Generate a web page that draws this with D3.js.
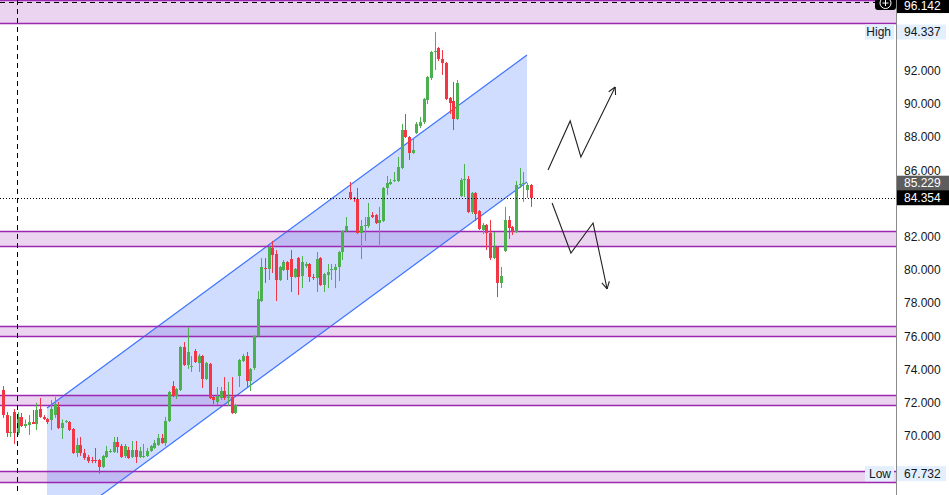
<!DOCTYPE html>
<html>
<head>
<meta charset="utf-8">
<script src="https://cdn.jsdelivr.net/npm/d3@7"></script>
<style>
  html, body { margin: 0; padding: 0; background: #fff; }
  svg { display: block; font-family: "Liberation Sans", Arial, sans-serif; }
</style>
</head>
<body>
<svg width="949" height="495"></svg>
<script>
'use strict';

// Candles, oldest first.
const opens = [
  72.77, 71.26, 70.18, 71.45, 70.18, 71.15, 70.60, 70.66, 70.84, 70.72,
  71.63, 71.15, 71.03, 70.96, 71.26, 71.75, 70.48, 70.84, 70.84, 70.42,
  68.98, 69.46, 68.98, 68.74, 68.56, 68.56, 68.56, 68.13, 68.74, 69.04,
  69.04, 69.64, 69.40, 68.80, 69.16, 68.74, 69.16, 68.74, 68.74, 68.80,
  69.10, 69.28, 69.46, 69.88, 69.58, 70.90, 73.01, 72.41, 72.77, 75.36,
  74.28, 74.16, 75.12, 74.40, 74.82, 73.43, 74.34, 72.35, 72.05, 72.29,
  72.71, 72.29, 72.35, 71.39, 73.62, 74.52, 74.82, 73.31, 74.10, 76.02,
  78.13, 80.12, 80.06, 81.33, 80.96, 79.40, 80.00, 80.48, 80.66, 79.58,
  80.72, 79.64, 80.24, 80.36, 79.58, 79.52, 80.72, 79.10, 79.70, 80.00,
  80.00, 80.18, 81.08, 82.35, 84.70, 84.34, 84.28, 82.23, 82.65, 82.65,
  83.31, 83.31, 82.83, 82.95, 84.94, 85.18, 85.36, 85.36, 86.14, 88.43,
  88.01, 87.05, 88.25, 88.67, 88.92, 90.24, 91.57, 93.13, 93.37, 92.71,
  92.47, 90.36, 90.18, 89.10, 84.46, 85.42, 85.48, 83.49, 84.64, 83.55,
  82.41, 82.71, 82.23, 80.72, 81.39, 79.22, 81.14, 83.01, 82.59, 82.29,
  85.12, 85.18, 84.82, 85.12
];
const highs = [
  73.01, 71.45, 71.20, 71.63, 71.45, 71.39, 71.00, 71.26, 71.57, 72.00,
  72.29, 71.26, 71.09, 72.17, 72.35, 72.05, 71.00, 70.96, 70.90, 70.48,
  69.88, 69.94, 69.22, 68.86, 68.74, 69.28, 68.62, 68.86, 69.40, 69.22,
  69.94, 69.94, 69.52, 69.52, 69.34, 69.70, 69.70, 69.34, 69.52, 69.28,
  69.46, 69.76, 70.12, 70.12, 71.15, 72.71, 73.31, 72.89, 75.42, 75.66,
  76.56, 74.82, 75.24, 74.94, 74.88, 74.46, 74.40, 72.47, 72.95, 72.95,
  73.55, 73.25, 73.55, 71.93, 74.64, 74.94, 75.06, 74.10, 76.08, 78.73,
  80.72, 80.72, 81.51, 81.75, 81.20, 80.24, 80.60, 80.54, 81.20, 80.12,
  80.78, 80.84, 80.48, 80.42, 79.76, 81.08, 80.78, 79.82, 80.36, 80.36,
  80.36, 81.14, 82.41, 83.19, 85.30, 84.40, 84.94, 83.01, 83.19, 84.04,
  83.49, 83.37, 83.80, 85.00, 85.66, 85.48, 85.90, 86.81, 88.80, 89.40,
  88.07, 87.95, 88.92, 89.22, 90.36, 91.69, 93.19, 94.337, 93.43, 93.25,
  92.53, 90.42, 91.33, 91.45, 85.54, 86.39, 85.66, 84.70, 84.70, 83.61,
  82.83, 82.77, 83.01, 82.29, 81.45, 80.18, 83.80, 83.25, 82.65, 85.36,
  86.14, 85.90, 85.24, 85.18
];
const lows = [
  71.09, 69.94, 69.94, 69.52, 70.06, 70.54, 70.48, 70.06, 70.72, 70.36,
  71.09, 70.96, 70.72, 70.36, 71.09, 70.42, 69.82, 70.78, 70.30, 68.92,
  68.74, 68.80, 68.56, 68.37, 68.37, 68.37, 67.732, 68.07, 68.68, 68.98,
  68.98, 68.98, 68.68, 68.68, 68.62, 68.68, 68.37, 68.68, 68.68, 68.74,
  69.04, 69.22, 69.40, 69.52, 69.40, 70.84, 72.35, 72.23, 72.71, 74.22,
  74.04, 73.86, 74.40, 73.86, 72.89, 73.37, 72.23, 71.93, 71.87, 72.17,
  72.17, 71.81, 71.33, 71.33, 72.95, 74.46, 72.89, 72.71, 73.98, 75.96,
  78.07, 79.22, 79.40, 79.82, 78.13, 79.34, 79.94, 79.40, 78.67, 79.52,
  78.49, 78.91, 80.12, 79.28, 79.40, 78.67, 79.04, 78.67, 78.91, 79.40,
  78.91, 79.34, 80.60, 82.29, 84.22, 84.10, 82.17, 80.66, 81.75, 82.53,
  83.13, 82.77, 81.51, 82.89, 84.52, 85.12, 85.30, 85.30, 86.08, 87.95,
  86.63, 86.99, 88.19, 88.55, 88.80, 90.00, 91.45, 92.05, 92.59, 91.75,
  90.24, 89.40, 88.43, 89.04, 84.40, 84.40, 83.43, 83.37, 82.95, 82.41,
  82.17, 81.20, 80.60, 80.66, 78.37, 78.91, 81.08, 81.87, 82.11, 82.23,
  84.94, 84.10, 84.34, 83.80
];
const closes = [
  71.26, 70.18, 70.24, 70.18, 71.15, 70.60, 70.72, 70.84, 70.72, 71.57,
  71.15, 71.03, 70.84, 71.63, 71.93, 70.48, 70.78, 70.90, 70.36, 68.98,
  69.46, 68.98, 68.68, 68.50, 68.50, 68.50, 68.13, 68.80, 69.10, 69.10,
  69.64, 69.34, 68.74, 69.40, 68.68, 69.16, 68.74, 69.10, 68.80, 69.10,
  69.40, 69.58, 69.88, 69.58, 70.90, 72.65, 72.41, 72.83, 75.36, 74.28,
  75.06, 74.22, 74.46, 74.82, 73.43, 74.40, 72.29, 72.17, 72.41, 72.71,
  72.29, 72.35, 71.39, 71.87, 74.58, 74.82, 73.31, 74.04, 76.02, 78.25,
  80.18, 80.06, 81.39, 80.90, 79.40, 80.18, 80.48, 80.00, 79.58, 80.06,
  79.58, 80.48, 80.36, 79.58, 79.52, 80.66, 79.10, 79.76, 79.88, 80.06,
  80.18, 81.08, 82.35, 82.65, 84.34, 84.28, 82.23, 82.65, 82.71, 83.19,
  83.19, 82.83, 83.01, 84.94, 85.24, 85.30, 85.42, 86.20, 88.43, 88.01,
  87.05, 87.23, 88.80, 88.92, 90.30, 91.63, 93.13, 93.19, 92.71, 92.47,
  90.30, 90.06, 89.10, 91.27, 85.42, 85.48, 83.49, 84.64, 83.37, 82.47,
  82.71, 82.23, 80.72, 81.39, 79.22, 79.64, 83.01, 82.53, 82.29, 85.12,
  85.18, 85.24, 85.12, 84.354
];

// Price axis ticks (94 sits under the High label, so it is left out).
const tickValues = [70, 72, 74, 76, 78, 80, 82, 86, 88, 90, 92];

// Supply / demand zones [low, high].
const zones = [
  [94.87, 96.25],
  [81.45, 82.35],
  [76.02, 76.63],
  [71.87, 72.47],
  [67.23, 67.89]
];

// Parallel channel: [candle index, upper price, lower price].
const channelStart = [11.9, 71.69, 64.03];
const channelEnd = [142.0, 92.95, 85.30];

// Scenario arrows, [candle index, price].
const arrowUp = [[147.7, 86.02], [153.7, 88.98], [156.6, 86.81], [165.9, 91.02]];
const arrowDown = [[148.8, 84.04], [153.9, 81.02], [159.9, 82.83], [163.7, 78.86]];

const lastPrice = 84.354;
const prevPrice = 85.229;
const highPrice = 94.337;
const lowPrice = 67.732;
const crossPrice = 96.142;
const crossIndex = 3.9;

const W = 949, H = 495, axisX = 896;
const green = '#4caf50', red = '#f23645';

const x = d3.scaleLinear().domain([0, 143]).range([3, 530.7]);
const y = d3.scaleLinear().domain([70, 92]).range([436, 70.8]);

const svg = d3.select('svg');
const plot = svg.append('g');

/*
 * Zones: fill first, borders drawn on top.
 */
plot.selectAll('rect.zone')
  .data(zones)
  .enter()
  .append('rect')
  .attr('class', 'zone')
  .attr('x', 0)
  .attr('width', axisX)
  .attr('y', d => y(d[1]))
  .attr('height', d => y(d[0]) - y(d[1]))
  .attr('fill', 'rgba(156,39,176,0.2)');

// Channel
const chPoly = [
  [x(channelStart[0]), y(channelStart[1])],
  [x(channelEnd[0]), y(channelEnd[1])],
  [x(channelEnd[0]), y(channelEnd[2])],
  [x(channelStart[0]), y(channelStart[2])]
];
plot.append('polygon')
  .attr('points', chPoly.map(p => p.join(',')).join(' '))
  .attr('fill', 'rgba(41,98,255,0.22)');

plot.selectAll('line.chan')
  .data([1, 2])
  .enter()
  .append('line')
  .attr('class', 'chan')
  .attr('x1', x(channelStart[0]))
  .attr('y1', k => y(channelStart[k]))
  .attr('x2', x(channelEnd[0]))
  .attr('y2', k => y(channelEnd[k]))
  .attr('stroke', '#3d73ff')
  .attr('stroke-width', 1.2);

const borders = [];
zones.forEach(z => { borders.push(z[0]); borders.push(z[1]); });
plot.selectAll('line.zb')
  .data(borders)
  .enter()
  .append('line')
  .attr('class', 'zb')
  .attr('x1', 0)
  .attr('x2', axisX)
  .attr('y1', d => Math.round(y(d)) + 0.5)
  .attr('y2', d => Math.round(y(d)) + 0.5)
  .attr('stroke', '#9c27b0')
  .attr('stroke-width', 1.3);

/*
 * Candles.
 */
const candles = opens.map((o, i) => ({
  i: i, o: o, h: highs[i], l: lows[i], c: closes[i]
}));

const cg = plot.selectAll('g.candle')
  .data(candles)
  .enter()
  .append('g')
  .attr('class', 'candle')
  .attr('fill', d => d.c >= d.o ? green : red)
  .attr('stroke', d => d.c >= d.o ? green : red);

cg.append('line')
  .attr('x1', d => Math.round(x(d.i)) + 0.5)
  .attr('x2', d => Math.round(x(d.i)) + 0.5)
  .attr('y1', d => y(d.h))
  .attr('y2', d => y(d.l))
  .attr('stroke-width', 1);

cg.append('rect')
  .attr('x', d => Math.round(x(d.i)) - 1)
  .attr('width', 3)
  .attr('y', d => Math.min(y(d.o), y(d.c)))
  .attr('height', d => Math.max(1, Math.abs(y(d.o) - y(d.c))))
  .attr('stroke', 'none')
  .attr('shape-rendering', 'crispEdges');

// Crosshair
plot.append('line')
  .attr('x1', Math.round(x(crossIndex)) + 0.5)
  .attr('x2', Math.round(x(crossIndex)) + 0.5)
  .attr('y1', 0)
  .attr('y2', H)
  .attr('stroke', '#000')
  .attr('stroke-dasharray', '5,4');

plot.append('line')
  .attr('x1', 0)
  .attr('x2', 876)
  .attr('y1', Math.round(y(crossPrice)) + 0.5)
  .attr('y2', Math.round(y(crossPrice)) + 0.5)
  .attr('stroke', '#000')
  .attr('stroke-dasharray', '5,4');

// Last price line
plot.append('line')
  .attr('x1', 0)
  .attr('x2', axisX)
  .attr('y1', Math.round(y(lastPrice)) + 0.5)
  .attr('y2', Math.round(y(lastPrice)) + 0.5)
  .attr('stroke', '#000')
  .attr('stroke-dasharray', '1,2');

/*
 * Arrows.
 */
function drawArrow(pts) {
  const px = pts.map(p => [x(p[0]), y(p[1])]);
  plot.append('path')
    .attr('d', d3.line()(px))
    .attr('fill', 'none')
    .attr('stroke', '#222')
    .attr('stroke-width', 1.1);

  const tip = px[px.length - 1];
  const prev = px[px.length - 2];
  const ang = Math.atan2(tip[1] - prev[1], tip[0] - prev[0]);
  const len = 8;
  [-0.5, 0.5].forEach(a => {
    plot.append('line')
      .attr('x1', tip[0])
      .attr('y1', tip[1])
      .attr('x2', tip[0] - len * Math.cos(ang + a))
      .attr('y2', tip[1] - len * Math.sin(ang + a))
      .attr('stroke', '#222')
      .attr('stroke-width', 1.1);
  });
}
drawArrow(arrowUp);
drawArrow(arrowDown);

/*
 * Price axis.
 */
const axis = svg.append('g');

axis.append('rect')
  .attr('x', axisX)
  .attr('y', 0)
  .attr('width', W - axisX)
  .attr('height', H)
  .attr('fill', '#fff');

axis.append('line')
  .attr('x1', axisX + 0.5)
  .attr('x2', axisX + 0.5)
  .attr('y1', 0)
  .attr('y2', H)
  .attr('stroke', '#8a8a8a');

axis.selectAll('text.tick')
  .data(tickValues)
  .enter()
  .append('text')
  .attr('class', 'tick')
  .attr('x', 904)
  .attr('y', d => y(d))
  .attr('dy', '0.35em')
  .attr('font-size', 12)
  .attr('fill', '#131722')
  .text(d => d3.format('.3f')(d));

// offset nudges a label down when it would fall off the top edge
function priceLabel(v, bg, fg, w, offset) {
  const cy = y(v) + (offset || 0);
  const g = axis.append('g');
  g.append('rect')
    .attr('x', axisX + 1)
    .attr('y', cy - 7.5)
    .attr('width', w)
    .attr('height', 15)
    .attr('fill', bg);
  g.append('text')
    .attr('x', 904)
    .attr('y', cy)
    .attr('dy', '0.35em')
    .attr('font-size', 12)
    .attr('fill', fg)
    .text(d3.format('.3f')(v));
}

function tagLabel(v, text) {
  plot.append('rect')
    .attr('x', 865)
    .attr('y', y(v) - 7.5)
    .attr('width', 29)
    .attr('height', 15)
    .attr('fill', '#e3effd');
  plot.append('text')
    .attr('x', 891)
    .attr('y', y(v))
    .attr('dy', '0.35em')
    .attr('text-anchor', 'end')
    .attr('font-size', 12)
    .attr('fill', '#131722')
    .text(text);
}

tagLabel(highPrice, 'High');
tagLabel(lowPrice, 'Low');
priceLabel(highPrice, '#e3effd', '#131722', 49);
priceLabel(lowPrice, '#e3effd', '#131722', 49);
priceLabel(prevPrice, '#5d5d5d', '#fff', W - axisX);
priceLabel(lastPrice, '#000', '#fff', W - axisX);
priceLabel(crossPrice, '#000', '#fff', W - axisX, 3.5);

// Crosshair "+" button
const btn = svg.append('g');
btn.append('rect')
  .attr('x', 875)
  .attr('y', -6)
  .attr('width', 21)
  .attr('height', 16)
  .attr('rx', 3)
  .attr('fill', '#000');
btn.append('circle')
  .attr('cx', 885.5)
  .attr('cy', y(crossPrice) + 1)
  .attr('r', 5.5)
  .attr('fill', 'none')
  .attr('stroke', '#fff');
btn.append('path')
  .attr('d', `M882.5,${y(crossPrice) + 1}h6M885.5,${y(crossPrice) - 2}v6`)
  .attr('stroke', '#fff');
</script>
</body>
</html>
